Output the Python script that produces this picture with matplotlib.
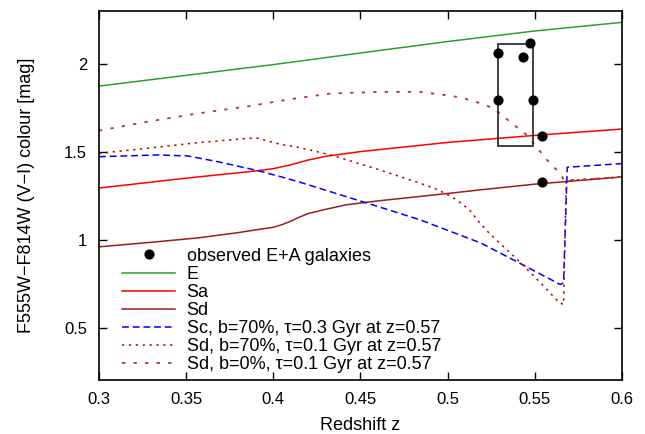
import matplotlib
matplotlib.use("Agg")
import matplotlib.pyplot as plt
from matplotlib.patches import Rectangle

plt.rcParams['font.family'] = ['Liberation Sans', 'DejaVu Sans']

# observed E+A galaxies
obs_z = [0.547, 0.529, 0.543, 0.529, 0.549, 0.554, 0.554]
obs_c = [2.117, 2.058, 2.037, 1.791, 1.791, 1.590, 1.330]
box_z = [0.529, 0.549]
box_c = [1.532, 2.109]

# model tracks
e_z = [0.3, 0.35, 0.4, 0.45, 0.5, 0.55, 0.6]
e_c = [1.872, 1.933, 1.994, 2.06, 2.125, 2.185, 2.234]

sa_z = [0.3, 0.35, 0.39, 0.40, 0.41, 0.42, 0.43, 0.45, 0.5, 0.55, 0.6]
sa_c = [1.293, 1.349, 1.39, 1.403, 1.425, 1.452, 1.473, 1.50, 1.552, 1.592, 1.628]

sd_z = [0.3, 0.33, 0.357, 0.38, 0.391, 0.40, 0.405, 0.41, 0.415, 0.42, 0.43,
        0.442, 0.461, 0.5, 0.519, 0.55, 0.6]
sd_c = [0.959, 0.985, 1.01, 1.04, 1.057, 1.07, 1.085, 1.105, 1.128, 1.148, 1.172,
        1.198, 1.221, 1.262, 1.283, 1.315, 1.356]

sc70_z = [0.3, 0.334, 0.351, 0.368, 0.391, 0.404, 0.414, 0.461, 0.484, 0.519,
          0.541, 0.5646, 0.5665, 0.5686, 0.6]
sc70_c = [1.471, 1.481, 1.475, 1.443, 1.392, 1.358, 1.33, 1.185, 1.113, 0.981,
          0.868, 0.745, 0.755, 1.411, 1.432]

sd70_z = [0.3, 0.328, 0.357, 0.386, 0.391, 0.404, 0.414, 0.433, 0.461, 0.484,
          0.494, 0.502, 0.508, 0.513, 0.518, 0.524, 0.541, 0.553, 0.564, 0.5665,
          0.568, 0.6]
sd70_c = [1.49, 1.519, 1.551, 1.576, 1.576, 1.541, 1.525, 1.481, 1.396, 1.321,
          1.285, 1.245, 1.205, 1.163, 1.10, 1.035, 0.877, 0.758, 0.642, 0.632,
          1.335, 1.356]

sd0_z = [0.3, 0.328, 0.357, 0.386, 0.41, 0.433, 0.461, 0.484, 0.4994, 0.5073,
         0.519, 0.5263, 0.537, 0.5454, 0.557, 0.5646, 0.567, 0.6]
sd0_c = [1.619, 1.67, 1.717, 1.758, 1.798, 1.83, 1.839, 1.839, 1.82, 1.808,
         1.774, 1.745, 1.66, 1.594, 1.453, 1.374, 1.335, 1.356]

labels = ['observed E+A galaxies', 'E', 'Sa', 'Sd',
          'Sc, b=70%, \u03c4=0.3 Gyr at z=0.57',
          'Sd, b=70%, \u03c4=0.1 Gyr at z=0.57',
          'Sd, b=0%, \u03c4=0.1 Gyr at z=0.57']
xticks = [0.3, 0.35, 0.4, 0.45, 0.5, 0.55, 0.6]
xticklabels = ['0.3', '0.35', '0.4', '0.45', '0.5', '0.55', '0.6']
yticks = [0.5, 1, 1.5, 2]
yticklabels = ['0.5', '1', '1.5', '2']

fig = plt.figure(figsize=(6.45, 4.34), dpi=100)
ax = fig.add_axes([0.1535, 0.1233, 0.9643 - 0.1535, 0.9753 - 0.1233])

lw = 1.1
h_obs, = ax.plot(obs_z, obs_c, 'o', color='black', markersize=6.3, linestyle='none', zorder=5)
h_e, = ax.plot(e_z, e_c, color='#2ca02c', lw=lw)
h_sa, = ax.plot(sa_z, sa_c, color='#ff0000', lw=lw)
h_sd, = ax.plot(sd_z, sd_c, color='#a01c1c', lw=lw)
h_sc70, = ax.plot(sc70_z, sc70_c, color='#0000ff', lw=lw, linestyle=(0, (4.5, 2.5)))
h_sd70, = ax.plot(sd70_z, sd70_c, color='#c00000', lw=lw, linestyle=(0, (1.5, 3)))
h_sd0, = ax.plot(sd0_z, sd0_c, color='#b03a3a', lw=lw * 1.2, linestyle=(0, (1.8, 4.5)))

ax.add_patch(Rectangle((box_z[0], box_c[0]), box_z[1] - box_z[0], box_c[1] - box_c[0],
                       fill=False, edgecolor='#202020', lw=1.2, zorder=4))

ax.set_xlim(0.3, 0.6)
ax.set_ylim(0.2, 2.3)
ax.set_xticks(xticks)
ax.set_xticklabels(xticklabels)
ax.set_yticks(yticks)
ax.set_yticklabels(yticklabels)
ax.tick_params(direction='in', length=6, width=1, top=True, right=True,
               labelsize=12, pad=8.5)
for s in ax.spines.values():
    s.set_linewidth(1.2)
ax.set_xlabel('Redshift z', fontsize=13, labelpad=7)
ax.set_ylabel('F555W\u2212F814W (V\u2212I) colour [mag]', fontsize=13, labelpad=21)

leg = ax.legend([h_obs, h_e, h_sa, h_sd, h_sc70, h_sd70, h_sd0], labels,
                loc='lower left', bbox_to_anchor=(0.031, 0.0), frameon=False,
                fontsize=13, handlelength=2.9, handletextpad=0.65,
                labelspacing=0.06, borderaxespad=0.0)

fig.savefig('out.png', dpi=100)
